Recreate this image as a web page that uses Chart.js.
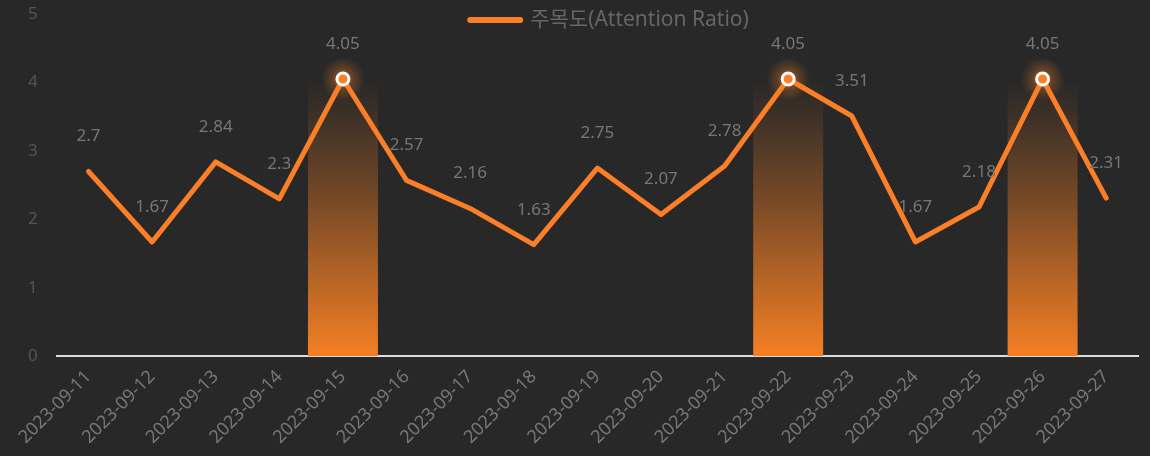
<!DOCTYPE html>
<html>
<head>
<meta charset="utf-8">
<script src="https://cdn.jsdelivr.net/npm/chart.js@4"></script>
<style>
  html, body { margin: 0; padding: 0; background: #282828; }
  #wrap { width: 1150px; height: 456px; }
</style>
</head>
<body>
<div id="wrap"><canvas id="attentionChart"></canvas></div>
<script>
// ====== Data ======
const dates = [
  "2023-09-11", "2023-09-12", "2023-09-13", "2023-09-14", "2023-09-15",
  "2023-09-16", "2023-09-17", "2023-09-18", "2023-09-19", "2023-09-20",
  "2023-09-21", "2023-09-22", "2023-09-23", "2023-09-24", "2023-09-25",
  "2023-09-26", "2023-09-27",
];
const attention = [2.7, 1.67, 2.84, 2.3, 4.05, 2.57, 2.16, 1.63, 2.75, 2.07, 2.78, 4.05, 3.51, 1.67, 2.18, 4.05, 2.31];
const peakBars = [null, null, null, null, 4.05, null, null, null, null, null, null, 4.05, null, null, null, 4.05, null];
const yTicks = [0, 1, 2, 3, 4, 5];
const seriesName = "주목도(Attention Ratio)";

const ORANGE = "#fa7f28";
const FONT = "'Noto Sans', 'Noto Sans CJK KR', sans-serif";

// ====== Plugins ======
// glow behind the highlighted points
const peakGlow = {
  id: "peakGlow",
  beforeDatasetsDraw(chart) {
    const meta = chart.getDatasetMeta(1);
    const ctx = chart.ctx;
    meta.data.forEach((pt, i) => {
      if (!peakBars[i]) return;
      const g = ctx.createRadialGradient(pt.x, pt.y, 0, pt.x, pt.y, 22);
      g.addColorStop(0, "rgba(245,128,37,0.7)");
      g.addColorStop(0.5, "rgba(245,128,37,0.25)");
      g.addColorStop(1, "rgba(245,128,37,0)");
      ctx.save();
      ctx.fillStyle = g;
      ctx.beginPath();
      ctx.arc(pt.x, pt.y, 22, 0, Math.PI * 2);
      ctx.fill();
      ctx.restore();
    });
  },
};

// value labels above the line
const valueLabels = {
  id: "valueLabels",
  afterDatasetsDraw(chart) {
    const meta = chart.getDatasetMeta(1);
    const ctx = chart.ctx;
    ctx.save();
    ctx.font = "17px " + FONT;
    ctx.fillStyle = "#777";
    ctx.textAlign = "center";
    ctx.textBaseline = "middle";
    meta.data.forEach((pt, i) => {
      ctx.fillText(String(attention[i]), pt.x, pt.y - 35);
    });
    ctx.restore();
  },
};

// legend drawn over the top of the plot
const topLegend = {
  id: "topLegend",
  afterDraw(chart) {
    const ctx = chart.ctx;
    ctx.save();
    ctx.font = "21px " + FONT;
    const tw = ctx.measureText(seriesName).width;
    const lineW = 56;
    const gap = 7;
    const x0 = chart.width / 2 + 33 - (lineW + gap + tw) / 2;
    const y = 20;
    ctx.strokeStyle = ORANGE;
    ctx.lineWidth = 6;
    ctx.lineCap = "round";
    ctx.beginPath();
    ctx.moveTo(x0 + 3, y);
    ctx.lineTo(x0 + lineW - 3, y);
    ctx.stroke();
    ctx.fillStyle = "#666";
    ctx.textBaseline = "middle";
    ctx.textAlign = "left";
    ctx.fillText(seriesName, x0 + lineW + gap, y);
    ctx.restore();
  },
};

// ====== Chart ======
const ctx = document.getElementById("attentionChart");
new Chart(ctx, {
  data: {
    labels: dates,
    datasets: [
      {
        type: "bar",
        label: "peak",
        data: peakBars,
        barPercentage: 1.1,
        categoryPercentage: 1,
        borderWidth: 0,
        backgroundColor: (c) => {
          const area = c.chart.chartArea;
          if (!area) return ORANGE;
          const yScale = c.chart.scales.y;
          const top = yScale.getPixelForValue(4.05);
          const g = c.chart.ctx.createLinearGradient(0, area.bottom, 0, top);
          g.addColorStop(0, "rgba(245,128,37,1)");
          g.addColorStop(0.55, "rgba(245,128,37,0.4)");
          g.addColorStop(0.85, "rgba(245,128,37,0.12)");
          g.addColorStop(1, "rgba(245,128,37,0)");
          return g;
        },
        order: 2,
      },
      {
        type: "line",
        label: seriesName,
        data: attention,
        borderColor: ORANGE,
        backgroundColor: ORANGE,
        borderWidth: 5,
        borderCapStyle: "round",
        borderJoinStyle: "round",
        tension: 0,
        pointRadius: peakBars.map((v) => (v ? 6 : 0)),
        pointHoverRadius: peakBars.map((v) => (v ? 6 : 0)),
        pointBackgroundColor: ORANGE,
        pointBorderColor: "#fff",
        pointBorderWidth: 3,
        order: 1,
      },
    ],
  },
  options: {
    responsive: true,
    maintainAspectRatio: false,
    animation: false,
    layout: { padding: { left: 9, right: 12, top: 0, bottom: -2 } },
    plugins: {
      legend: { display: false },
      tooltip: { enabled: false },
    },
    scales: {
      x: {
        offset: true,
        grid: { display: false, drawTicks: false },
        border: { display: true, color: "#ddd", width: 2 },
        ticks: {
          color: "#777",
          font: { family: FONT, size: 18 },
          minRotation: 45,
          maxRotation: 45,
          padding: 10,
        },
        afterFit: (scale) => {
          scale.paddingLeft = 0;
        },
      },
      y: {
        min: yTicks[0],
        max: yTicks[yTicks.length - 1],
        grid: { display: false, drawTicks: false },
        border: { display: false },
        ticks: {
          stepSize: 1,
          color: "#555",
          font: { family: FONT, size: 17 },
          padding: 19,
        },
        afterFit: (scale) => {
          scale.paddingTop = 14;
          scale.paddingBottom = 0;
        },
      },
    },
  },
  plugins: [peakGlow, valueLabels, topLegend],
});
</script>
</body>
</html>
